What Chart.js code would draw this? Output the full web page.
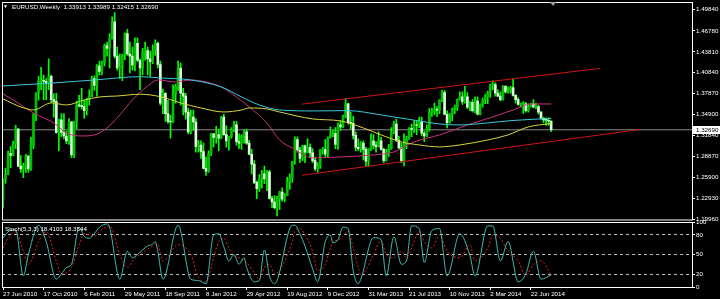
<!DOCTYPE html>
<html>
<head>
<meta charset="utf-8">
<script src="https://cdn.jsdelivr.net/npm/chart.js@4.4.1/dist/chart.umd.min.js"></script>
<style>
  html, body { margin: 0; padding: 0; background: #000; overflow: hidden; }
  #wrap { position: relative; width: 720px; height: 299px; }
  canvas { position: absolute; left: 0; }
  #main { top: 0; }
  #stoch { top: 219px; }
  .lbl { position: absolute; color: #fff; font: 6.2px "Liberation Sans", Arial, sans-serif; white-space: pre; }
  #shift { position: absolute; left: 550px; top: 2px; width: 0; height: 0;
           border-left: 3px solid transparent; border-right: 3px solid transparent; border-top: 4px solid #a0a0a0; }
</style>
</head>
<body>
<div id="wrap">
  <canvas id="main" width="720" height="226"></canvas>
  <canvas id="stoch" width="720" height="80"></canvas>
  <div class="lbl" style="left:3px;top:3px;font-size:5px">&#9660;</div>
  <div class="lbl" style="left:12px;top:3px">EURUSD,Weekly  1.33913 1.33989 1.32415 1.32690</div>
  <div class="lbl" style="left:5px;top:225px">Stoch(5,3,3) 18.4103 18.3544</div>
  <div id="shift"></div>
</div>
<script>
// EURUSD weekly, 27 Jun 2010 .. 17 Aug 2014, one row per week: [open, high, low, close]
const ohlc = [
  // 2010
  [1.2235,1.2570,1.2152,1.2565],[1.2565,1.2723,1.2505,1.2640],[1.2640,1.2967,1.2630,1.2935],[1.2935,1.3028,1.2730,1.2905],
  [1.2905,1.3109,1.2895,1.3070],[1.3070,1.3333,1.3000,1.3280],[1.3280,1.3290,1.2740,1.2750],[1.2750,1.2900,1.2660,1.2710],
  [1.2710,1.2790,1.2588,1.2760],[1.2760,1.2920,1.2660,1.2895],[1.2895,1.2900,1.2660,1.2710],[1.2710,1.3160,1.2690,1.3050],
  [1.3050,1.3500,1.3000,1.3490],[1.3490,1.3800,1.3400,1.3790],[1.3790,1.4030,1.3690,1.3960],[1.3960,1.4160,1.3840,1.3970],
  [1.3970,1.4050,1.3695,1.3960],[1.3960,1.4000,1.3700,1.3940],[1.3940,1.4282,1.3840,1.4030],[1.4030,1.4050,1.3660,1.3700],
  [1.3700,1.3780,1.3450,1.3670],[1.3670,1.3790,1.3220,1.3230],[1.3230,1.3420,1.2970,1.3410],[1.3410,1.3500,1.3170,1.3230],
  [1.3230,1.3500,1.3140,1.3180],[1.3180,1.3250,1.3070,1.3110],[1.3110,1.3430,1.3060,1.3380],
  // 2011
  [1.3380,1.3390,1.2870,1.2910],[1.2910,1.3390,1.2870,1.3380],[1.3380,1.3680,1.3280,1.3620],[1.3620,1.3760,1.3590,1.3610],
  [1.3610,1.3860,1.3560,1.3600],[1.3600,1.3690,1.3430,1.3540],[1.3540,1.3720,1.3480,1.3700],[1.3700,1.3840,1.3620,1.3750],
  [1.3750,1.4030,1.3740,1.4000],[1.4000,1.4040,1.3830,1.3900],[1.3900,1.4200,1.3750,1.4180],[1.4180,1.4250,1.4050,1.4100],
  [1.4100,1.4250,1.4050,1.4230],[1.4230,1.4490,1.4180,1.4470],[1.4470,1.4520,1.4320,1.4430],[1.4430,1.4640,1.4150,1.4570],
  [1.4570,1.4880,1.4560,1.4810],[1.4810,1.4940,1.4290,1.4320],[1.4320,1.4450,1.4120,1.4150],[1.4150,1.4350,1.4000,1.4160],
  [1.4160,1.4350,1.3970,1.4330],[1.4330,1.4650,1.4270,1.4640],[1.4640,1.4700,1.4330,1.4350],[1.4350,1.4520,1.4080,1.4320],
  [1.4320,1.4450,1.4120,1.4190],[1.4190,1.4580,1.4110,1.4500],[1.4500,1.4580,1.4240,1.4260],[1.4260,1.4280,1.3840,1.4150],
  [1.4150,1.4430,1.4050,1.4390],[1.4390,1.4520,1.4260,1.4400],[1.4400,1.4450,1.4050,1.4280],[1.4280,1.4390,1.4030,1.4240],
  [1.4240,1.4480,1.4210,1.4400],[1.4400,1.4550,1.4330,1.4500],[1.4500,1.4520,1.4150,1.4200],[1.4200,1.4250,1.3620,1.3650],
  [1.3650,1.3850,1.3500,1.3790],[1.3790,1.3800,1.3390,1.3500],[1.3500,1.3690,1.3360,1.3390],[1.3390,1.3480,1.3150,1.3380],
  [1.3380,1.3910,1.3370,1.3780],[1.3780,1.3920,1.3650,1.3890],[1.3890,1.4250,1.3830,1.4150],[1.4150,1.4220,1.3620,1.3790],
  [1.3790,1.3860,1.3480,1.3750],[1.3750,1.3790,1.3420,1.3520],[1.3520,1.3580,1.3210,1.3240],[1.3240,1.3550,1.3210,1.3450],
  [1.3450,1.3550,1.3260,1.3380],[1.3380,1.3430,1.2950,1.3030],[1.3030,1.3120,1.2950,1.3050],[1.3050,1.3110,1.2860,1.2960],
  // 2012
  [1.2960,1.3080,1.2710,1.2720],[1.2720,1.2880,1.2620,1.2680],[1.2680,1.2970,1.2660,1.2930],[1.2930,1.3220,1.2900,1.3210],
  [1.3210,1.3220,1.3020,1.3160],[1.3160,1.3320,1.3080,1.3200],[1.3200,1.3280,1.2970,1.3150],[1.3150,1.3460,1.3140,1.3450],
  [1.3450,1.3490,1.3190,1.3200],[1.3200,1.3330,1.3020,1.3110],[1.3110,1.3180,1.2980,1.3170],[1.3170,1.3300,1.3150,1.3270],
  [1.3270,1.3390,1.3240,1.3340],[1.3340,1.3390,1.3050,1.3100],[1.3100,1.3210,1.3000,1.3080],[1.3080,1.3200,1.2990,1.3180],
  [1.3180,1.3270,1.3080,1.3240],[1.3240,1.3280,1.3060,1.3080],[1.3080,1.3120,1.2910,1.2920],[1.2920,1.2990,1.2640,1.2780],
  [1.2780,1.2830,1.2500,1.2520],[1.2520,1.2540,1.2288,1.2430],[1.2430,1.2630,1.2390,1.2560],[1.2560,1.2690,1.2440,1.2640],
  [1.2640,1.2750,1.2500,1.2570],[1.2570,1.2690,1.2400,1.2670],[1.2670,1.2690,1.2280,1.2290],[1.2290,1.2320,1.2160,1.2240],
  [1.2240,1.2330,1.2140,1.2160],[1.2160,1.2320,1.2042,1.2290],[1.2290,1.2390,1.2130,1.2380],[1.2380,1.2440,1.2250,1.2280],
  [1.2280,1.2360,1.2240,1.2330],[1.2330,1.2590,1.2330,1.2520],[1.2520,1.2640,1.2420,1.2580],[1.2580,1.2820,1.2520,1.2810],
  [1.2810,1.3170,1.2780,1.3130],[1.3130,1.3170,1.2950,1.2980],[1.2980,1.3020,1.2800,1.2860],[1.2860,1.3050,1.2830,1.3040],
  [1.3040,1.3050,1.2800,1.2950],[1.2950,1.3140,1.2940,1.3020],[1.3020,1.3070,1.2880,1.2940],[1.2940,1.3000,1.2800,1.2830],
  [1.2830,1.2880,1.2690,1.2710],[1.2710,1.2800,1.2660,1.2750],[1.2750,1.2990,1.2720,1.2980],[1.2980,1.3020,1.2920,1.2990],
  [1.2990,1.3130,1.2880,1.2920],[1.2920,1.3170,1.2880,1.3160],[1.3160,1.3310,1.3150,1.3190],[1.3190,1.3260,1.3170,1.3220],
  [1.3220,1.3300,1.3000,1.3060],
  // 2013
  [1.3060,1.3370,1.2990,1.3340],[1.3340,1.3400,1.3260,1.3310],[1.3310,1.3480,1.3300,1.3460],[1.3460,1.3710,1.3440,1.3640],
  [1.3640,1.3650,1.3350,1.3370],[1.3370,1.3520,1.3280,1.3360],[1.3360,1.3460,1.3140,1.3190],[1.3190,1.3240,1.2970,1.3020],
  [1.3020,1.3140,1.2970,1.3000],[1.3000,1.3100,1.2950,1.3080],[1.3080,1.3110,1.2840,1.2990],[1.2990,1.3020,1.2750,1.2820],
  [1.2820,1.3000,1.2750,1.2990],[1.2990,1.3210,1.2970,1.3110],[1.3110,1.3200,1.3000,1.3050],[1.3050,1.3100,1.2950,1.3030],
  [1.3030,1.3240,1.3020,1.3110],[1.3110,1.3160,1.2980,1.2990],[1.2990,1.3010,1.2800,1.2830],[1.2830,1.2990,1.2820,1.2940],
  [1.2940,1.3060,1.2890,1.3000],[1.3000,1.3300,1.2990,1.3230],[1.3230,1.3390,1.3210,1.3350],[1.3350,1.3420,1.3100,1.3120],
  [1.3120,1.3180,1.3000,1.3010],[1.3010,1.3080,1.2800,1.2830],[1.2830,1.3210,1.2755,1.3070],[1.3070,1.3180,1.3000,1.3140],
  [1.3140,1.3300,1.3130,1.3280],[1.3280,1.3350,1.3170,1.3275],[1.3275,1.3400,1.3230,1.3340],[1.3340,1.3400,1.3200,1.3330],
  [1.3330,1.3450,1.3300,1.3380],[1.3380,1.3450,1.3180,1.3220],[1.3220,1.3250,1.3100,1.3180],[1.3180,1.3340,1.3170,1.3290],
  [1.3290,1.3570,1.3250,1.3520],[1.3520,1.3580,1.3460,1.3525],[1.3525,1.3650,1.3480,1.3560],[1.3560,1.3600,1.3460,1.3550],
  [1.3550,1.3700,1.3500,1.3690],[1.3690,1.3830,1.3670,1.3800],[1.3800,1.3830,1.3480,1.3490],[1.3490,1.3540,1.3295,1.3370],
  [1.3370,1.3500,1.3360,1.3495],[1.3495,1.3580,1.3400,1.3560],[1.3560,1.3620,1.3500,1.3590],[1.3590,1.3710,1.3540,1.3700],
  [1.3700,1.3810,1.3690,1.3740],[1.3740,1.3810,1.3630,1.3670],[1.3670,1.3890,1.3650,1.3740],[1.3740,1.3800,1.3570,1.3590],
  // 2014
  [1.3590,1.3670,1.3540,1.3660],[1.3660,1.3700,1.3520,1.3540],[1.3540,1.3740,1.3510,1.3680],[1.3680,1.3740,1.3480,1.3490],
  [1.3490,1.3640,1.3480,1.3630],[1.3630,1.3720,1.3590,1.3690],[1.3690,1.3770,1.3640,1.3740],[1.3740,1.3820,1.3640,1.3800],
  [1.3800,1.3920,1.3730,1.3910],[1.3910,1.3967,1.3840,1.3915],[1.3915,1.3940,1.3750,1.3790],[1.3790,1.3840,1.3740,1.3750],
  [1.3750,1.3810,1.3680,1.3700],[1.3700,1.3900,1.3690,1.3890],[1.3890,1.3900,1.3790,1.3810],[1.3810,1.3880,1.3790,1.3830],
  [1.3830,1.3890,1.3790,1.3870],[1.3870,1.3993,1.3750,1.3760],[1.3760,1.3770,1.3650,1.3700],[1.3700,1.3730,1.3620,1.3630],
  [1.3630,1.3650,1.3590,1.3635],[1.3635,1.3670,1.3503,1.3640],[1.3640,1.3660,1.3520,1.3540],[1.3540,1.3640,1.3520,1.3600],
  [1.3600,1.3650,1.3590,1.3640],[1.3640,1.3700,1.3580,1.3590],[1.3590,1.3650,1.3570,1.3600],[1.3600,1.3620,1.3490,1.3520],
  [1.3520,1.3530,1.3420,1.3430],[1.3430,1.3450,1.3370,1.3410],[1.3410,1.3440,1.3330,1.3405],[1.3405,1.3440,1.3330,1.3391],
  [1.3391,1.3399,1.3242,1.3269]
];

// moving averages (week index, price)
const cyanWeeks = [0, 18, 36, 54, 62, 74, 86, 94, 101, 109, 122, 136, 149, 164, 172, 180, 191, 201, 216];
const cyanValues = [1.3894, 1.3932, 1.3979, 1.4026, 1.4008, 1.3979, 1.3880, 1.3737, 1.3623, 1.3552, 1.3538, 1.3542, 1.3481, 1.3395, 1.3352, 1.3338, 1.3367, 1.3402, 1.3431];

const yellowWeeks = [0, 7, 12, 19, 25, 32, 38, 45, 54, 62, 70, 78, 87, 94, 97, 104, 109, 122, 133, 142, 149, 157, 164, 172, 180, 191, 199, 207, 216];
const yellowValues = [1.3709, 1.3595, 1.3552, 1.3652, 1.3623, 1.3694, 1.3737, 1.3751, 1.3776, 1.3741, 1.3652, 1.3580, 1.3523, 1.3552, 1.3580, 1.3566, 1.3523, 1.3424, 1.3395, 1.3295, 1.3196, 1.3096, 1.3053, 1.3025, 1.3053, 1.3124, 1.3196, 1.3310, 1.3359];

const magentaWeeks = [0, 4, 12, 20, 25, 31, 36, 41, 46, 51, 57, 61, 68, 74, 80, 86, 92, 97, 104, 109, 114, 122, 133, 146, 154, 162, 172, 183, 193, 201, 208, 216];
const magentaValues = [1.3780, 1.3694, 1.3509, 1.3367, 1.3224, 1.3181, 1.3196, 1.3295, 1.3481, 1.3694, 1.3894, 1.3979, 1.3951, 1.3979, 1.3951, 1.3880, 1.3737, 1.3595, 1.3367, 1.3124, 1.3010, 1.2868, 1.2882, 1.2911, 1.2953, 1.3096, 1.3196, 1.3338, 1.3452, 1.3552, 1.3637, 1.3637];

// channel trend lines (week index, price)
const upperWeeks = [117.8, 235.2];
const upperPrices = [1.3635, 1.4144];
const lowerWeeks = [117.8, 251];
const lowerPrices = [1.2621, 1.3273];

// stochastic (5,3,3)
const stochWeeks = [0, 2, 5, 8, 10, 14, 17, 21, 23, 25, 27, 30, 32, 34, 36, 38, 41, 42, 46, 49, 51, 53, 55, 57, 59, 60, 61, 63, 69, 74, 77, 80, 83, 85, 87, 89, 91, 93, 95, 96, 99, 101, 103, 105, 107, 114, 115, 117, 119, 122, 124, 127, 129, 130, 132, 134, 136, 138, 140, 141, 146, 149, 151, 154, 157, 159, 161, 164, 166, 169, 172, 175, 180, 184, 186, 191, 193, 196, 199, 203, 206, 209, 212, 216];
const stochMain = [75, 85, 88, 17, 50, 95, 70, 12, 20, 30, 35, 92, 78, 75, 82, 92, 97, 92, 12, 55, 45, 50, 57, 63, 66, 70, 55, 12, 95, 12, 10, 5, 80, 82, 62, 40, 50, 35, 45, 30, 8, 10, 57, 17, 5, 95, 95, 82, 63, 28, 8, 70, 80, 68, 73, 92, 90, 25, 5, 12, 76, 73, 17, 77, 35, 40, 94, 90, 38, 87, 90, 17, 82, 48, 17, 94, 94, 40, 70, 8, 20, 55, 12, 18.41];
const stochSignal = [60, 75, 85, 55, 35, 70, 85, 40, 20, 22, 30, 65, 82, 80, 78, 85, 93, 94, 50, 30, 40, 47, 52, 58, 63, 66, 65, 40, 65, 50, 15, 8, 45, 70, 75, 60, 48, 45, 40, 38, 22, 12, 30, 35, 20, 70, 85, 90, 80, 55, 25, 35, 60, 70, 72, 78, 86, 60, 30, 18, 50, 72, 50, 45, 55, 45, 60, 85, 70, 60, 80, 55, 45, 65, 40, 60, 80, 75, 55, 40, 18, 35, 40, 18.35];

// axis labels
const priceTicks = [1.4984, 1.4678, 1.4381, 1.4084, 1.3787, 1.3490, 1.3184, 1.2887, 1.2590, 1.2293, 1.1996];
const stochTicks = [0, 20, 50, 80, 100];
const stochLevels = [20, 50, 80];
const dateWeeks = [0, 16, 32, 48, 64, 80, 96, 112, 128, 144, 160, 176, 192, 208];
const dateLabels = ['27 Jun 2010', '17 Oct 2010', '6 Feb 2011', '29 May 2011', '18 Sep 2011', '8 Jan 2012', '29 Apr 2012', '19 Aug 2012', '9 Dec 2012', '31 Mar 2013', '21 Jul 2013', '10 Nov 2013', '2 Mar 2014', '22 Jun 2014'];

const xMin = -0.4, xMax = 271.5;
const lastClose = ohlc[ohlc.length - 1][3];

Chart.defaults.font.family = '"Liberation Sans", Arial, sans-serif';
Chart.defaults.font.size = 6.2;
Chart.defaults.color = '#ffffff';

function pts(xs, ys) {
  return xs.map((x, i) => ({ x: x, y: ys[i] }));
}
function line(xs, ys, color, extra) {
  return Object.assign({
    type: 'line', data: pts(xs, ys), borderColor: color, borderWidth: 1,
    pointRadius: 0, tension: 0.4, cubicInterpolationMode: 'monotone', order: 0
  }, extra || {});
}

// white frame round each panel
const framePlugin = {
  id: 'frame',
  afterDraw(chart) {
    const a = chart.chartArea, ctx = chart.ctx;
    ctx.save();
    ctx.strokeStyle = '#ffffff';
    ctx.lineWidth = 1;
    ctx.strokeRect(a.left + 0.5, a.top + 0.5, a.right - a.left, a.bottom - a.top);
    ctx.restore();
  }
};

// current price box on the price axis
const priceBoxPlugin = {
  id: 'priceBox',
  afterDraw(chart) {
    const y = Math.round(chart.scales.y.getPixelForValue(lastClose));
    const ctx = chart.ctx, x = chart.chartArea.right + 1;
    ctx.save();
    ctx.fillStyle = '#ffffff';
    ctx.fillRect(x, y - 4, 720 - x, 8);
    ctx.fillStyle = '#000000';
    ctx.font = '6.2px "Liberation Sans", Arial, sans-serif';
    ctx.textBaseline = 'middle';
    ctx.fillText(lastClose.toFixed(5), x + 3, y + 0.5);
    ctx.restore();
  }
};

function fixWidth(scale) {
  scale.width = 28;
  scale.paddingTop = 0;
  scale.paddingBottom = 0;
}

const wickData = ohlc.map((c, i) => ({ x: i, y: [c[2], c[1]] }));
const bodyData = ohlc.map((c, i) => ({ x: i, y: [c[0], c[3]] }));
const bodyColors = ohlc.map(c => c[3] >= c[0] ? '#00c000' : '#d8ffd8');

new Chart(document.getElementById('main'), {
  type: 'bar',
  data: {
    datasets: [
      { type: 'bar', data: wickData, backgroundColor: '#00ff00', barThickness: 1, grouped: false, order: 3 },
      { type: 'bar', data: bodyData, backgroundColor: bodyColors, barThickness: 2, minBarLength: 1, grouped: false, order: 2 },
      line([xMin, xMax], [lastClose, lastClose], '#8a8a8a', { tension: 0, order: 4 }),
      line(cyanWeeks, cyanValues, '#3cc8dc'),
      line(yellowWeeks, yellowValues, '#d8d83c'),
      line(magentaWeeks, magentaValues, '#c8307c'),
      line(upperWeeks, upperPrices, '#d01414', { tension: 0 }),
      line(lowerWeeks, lowerPrices, '#d01414', { tension: 0 })
    ]
  },
  options: {
    responsive: false,
    animation: false,
    events: [],
    layout: { padding: { left: 2, top: 2, right: 0, bottom: 6.5 } },
    plugins: { legend: { display: false }, tooltip: { enabled: false } },
    scales: {
      x: { type: 'linear', min: xMin, max: xMax, offset: false, display: false, grid: { offset: false } },
      y: {
        type: 'linear', position: 'right', min: 1.1990, max: 1.5091,
        afterBuildTicks: s => { s.ticks = priceTicks.map(v => ({ value: v })); },
        afterFit: fixWidth,
        ticks: { callback: v => Number(v).toFixed(5), padding: 1, color: '#ffffff' },
        grid: { drawOnChartArea: false, tickLength: 3, color: '#ffffff', tickColor: '#ffffff' },
        border: { display: false }
      }
    }
  },
  plugins: [framePlugin, priceBoxPlugin]
});

new Chart(document.getElementById('stoch'), {
  type: 'line',
  data: {
    datasets: [
      line(stochWeeks, stochMain, '#3cbcb0', { tension: 0 }),
      line(stochWeeks, stochSignal, '#e02020', { tension: 0, borderDash: [2, 2] })
    ]
  },
  options: {
    responsive: false,
    animation: false,
    events: [],
    layout: { padding: { left: 2, top: 3, right: 0, bottom: 0 } },
    plugins: { legend: { display: false }, tooltip: { enabled: false } },
    scales: {
      x: {
        type: 'linear', min: xMin, max: xMax, offset: false,
        afterBuildTicks: s => { s.ticks = dateWeeks.map(v => ({ value: v })); },
        afterFit: s => { s.height = 12; s.paddingLeft = 0; s.paddingRight = 0; },
        ticks: { callback: v => dateLabels[dateWeeks.indexOf(v)], align: 'start', autoSkip: false, maxRotation: 0, padding: 1 },
        grid: { drawOnChartArea: false, tickLength: 3, tickColor: '#ffffff', color: '#ffffff' },
        border: { display: false }
      },
      y: {
        type: 'linear', position: 'right', min: 0, max: 100,
        afterBuildTicks: s => { s.ticks = stochTicks.map(v => ({ value: v })); },
        afterFit: fixWidth,
        ticks: { padding: 1 },
        grid: {
          color: c => (c.tick && stochLevels.includes(c.tick.value)) ? '#bdbdbd' : 'rgba(0,0,0,0)',
          tickColor: '#ffffff', tickLength: 3
        },
        border: { display: false, dash: [3, 3] }
      }
    }
  },
  plugins: [framePlugin]
});
</script>
</body>
</html>
